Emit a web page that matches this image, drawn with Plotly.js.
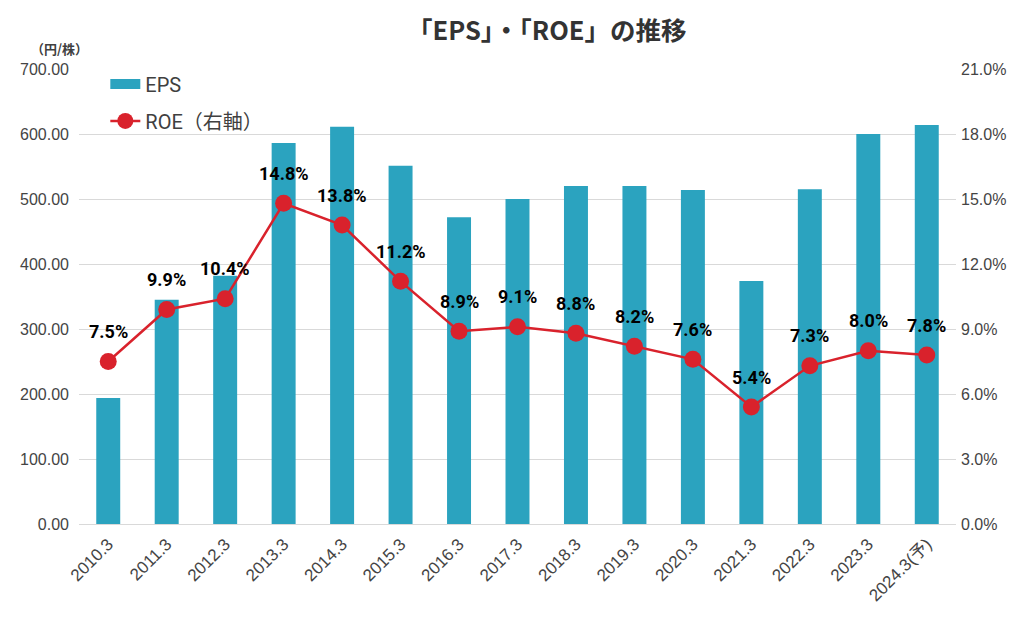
<!DOCTYPE html>
<html>
<head>
<meta charset="utf-8">
<script src="https://cdn.plot.ly/plotly-3.0.1.min.js"></script>
<style>body{margin:0;background:#fff;} #chart{width:1024px;height:630px;}</style>
</head>
<body>
<div id="chart"></div>
<script>
const categories = ["2010.3","2011.3","2012.3","2013.3","2014.3","2015.3","2016.3","2017.3","2018.3","2019.3","2020.3","2021.3","2022.3","2023.3","2024.3(予)"];
const eps = [194, 345, 382, 586, 611, 551, 472, 500, 520, 520, 514, 374, 515, 600, 614];
const roe = [7.5, 9.9, 10.4, 14.8, 13.8, 11.2, 8.9, 9.1, 8.8, 8.2, 7.6, 5.4, 7.3, 8.0, 7.8];

const fontMain = "Liberation Sans, Arial, Noto Sans CJK JP, sans-serif";
const fontNarrow = "Roboto, Liberation Sans, Noto Sans CJK JP, sans-serif";
const tickColor = "#444444";
const barColor = "#2ba3bf";
const lineColor = "#d9222c";

const traces = [
  {
    type: "scatter", mode: "lines", name: "EPS", x: [null], y: [null],
    line: {color: barColor, width: 11}, legendgroup: "a", showlegend: true, hoverinfo: "skip"
  },
  {
    type: "bar", name: "EPS", x: categories, y: eps, showlegend: false,
    marker: {color: barColor}, yaxis: "y", hoverinfo: "skip"
  },
  {
    type: "scatter", mode: "lines+markers", name: "ROE（右軸）", legendgroup: "b",
    x: categories, y: roe, yaxis: "y2",
    line: {color: lineColor, width: 2.5},
    marker: {color: lineColor, size: 17},
    cliponaxis: false, hoverinfo: "skip"
  }
];

const labelAnnotations = categories.map((c, i) => ({
  x: i, y: roe[i], xref: "x", yref: "y2",
  text: roe[i].toFixed(1) + "%", showarrow: false,
  yshift: 30, xanchor: "center", yanchor: "middle",
  font: {family: fontNarrow, size: 18, color: "#000000", weight: "bold"}
}));

const layout = {
  width: 1024, height: 630,
  margin: {l: 79, r: 68, t: 69, b: 106},
  paper_bgcolor: "#ffffff", plot_bgcolor: "#ffffff",
  font: {family: fontMain, color: tickColor},
  title: {
    text: "「EPS」・「ROE」の推移",
    x: 0.534, xanchor: "center", y: 0.95, yanchor: "middle",
    font: {family: "Noto Sans CJK JP, sans-serif", size: 25.5, color: "#333333", weight: "bold"}
  },
  bargap: 0.59,
  showlegend: true,
  legend: {
    x: 0.03, y: 1.01, xanchor: "left", yanchor: "top",
    font: {family: fontNarrow, size: 20, color: "#404040"},
    bgcolor: "rgba(0,0,0,0)", tracegroupgap: 8, itemwidth: 30, traceorder: "grouped"
  },
  xaxis: {
    type: "category", range: [-0.5, 14.5], tickangle: -45, showgrid: false,
    tickfont: {family: fontMain, size: 17, color: tickColor},
    showline: false, ticks: "", automargin: false, ticklabelstandoff: 6
  },
  yaxis: {
    range: [0, 700], dtick: 100, tickformat: ".2f",
    gridcolor: "#d9d9d9", gridwidth: 1, zeroline: true, zerolinecolor: "#d9d9d9",
    tickfont: {family: fontMain, size: 16, color: tickColor},
    ticks: "", automargin: false, ticklabelstandoff: 9
  },
  yaxis2: {
    range: [0, 21], dtick: 3, overlaying: "y", side: "right",
    tickformat: ".1f", ticksuffix: "%", showgrid: false, zeroline: false,
    tickfont: {family: fontMain, size: 16, color: tickColor},
    automargin: false, ticklabelstandoff: 4
  },
  annotations: [
    {text: "（円/株）", xref: "paper", yref: "paper", x: 0.012, y: 1.045, xanchor: "right", yanchor: "middle",
     showarrow: false, font: {family: "Noto Sans CJK JP, sans-serif", size: 13, color: "#404040", weight: "bold"}}
  ].concat(labelAnnotations)
};

Plotly.newPlot("chart", traces, layout, {displayModeBar: false, staticPlot: true});
</script>
</body>
</html>
